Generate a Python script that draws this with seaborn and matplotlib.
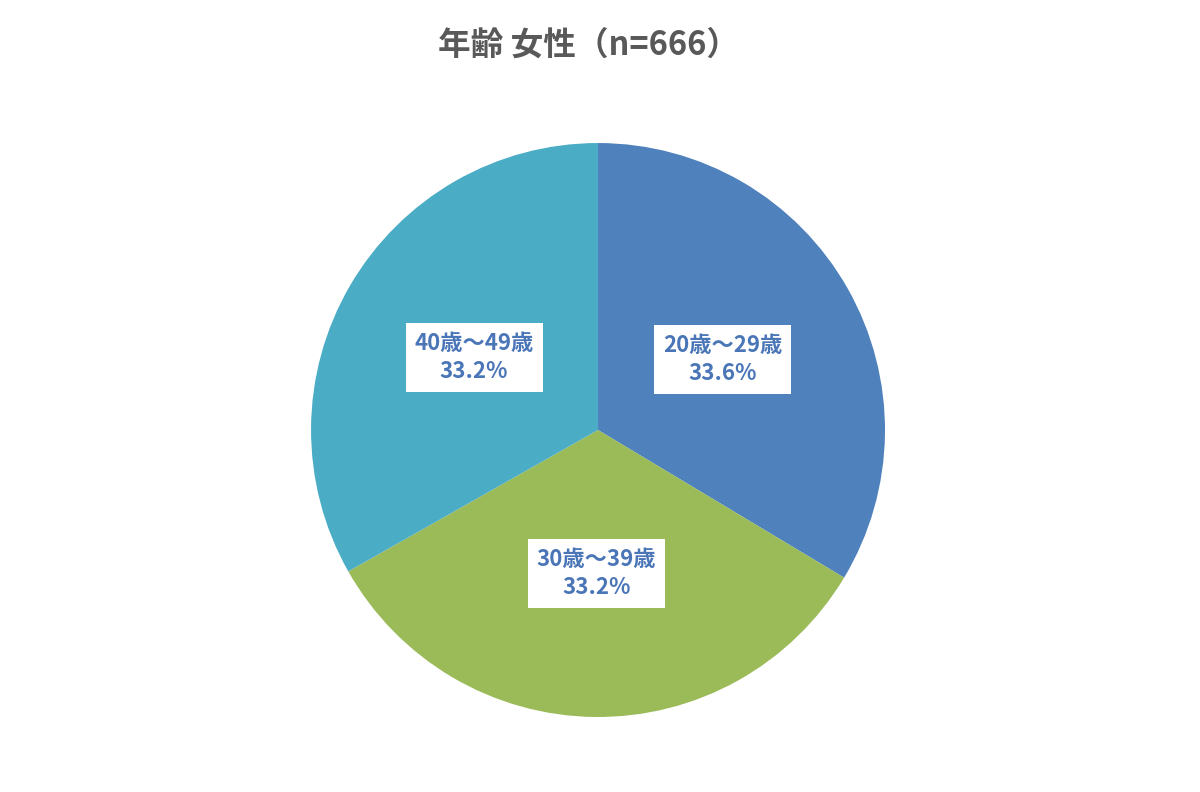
import matplotlib
matplotlib.use('Agg')
import matplotlib.pyplot as plt
import seaborn as sns

sns.set_theme(style='white')
plt.rcParams['font.family'] = ['Noto Sans CJK JP', 'DejaVu Sans']

# データ
labels = ['20歳～29歳', '30歳～39歳', '40歳～49歳']
shares = [33.6, 33.2, 33.2]
colors = ['#4F81BD', '#9BBB59', '#4BACC6']
title = '年齢 女性（n=666）'

fig = plt.figure(figsize=(12, 7.92), dpi=100)
ax = fig.add_axes([0.2592, 0.0947, 0.4783, 0.7247])

texts = [f'{l}\n{s:.1f}%' for l, s in zip(labels, shares)]
wedges, txts = ax.pie(shares, labels=texts, colors=colors, startangle=90,
                      counterclock=False, labeldistance=0.5,
                      wedgeprops=dict(linewidth=0),
                      textprops=dict(color='#4A76B8', fontsize=16,
                                     fontweight='bold', ha='center', va='center',
                                     linespacing=1.3))
for t in txts:
    t.set_bbox(dict(facecolor='white', edgecolor='none', boxstyle='square,pad=0.4'))

ax.set_xlim(-1, 1)
ax.set_ylim(-1, 1)
ax.set_aspect('equal')
ax.axis('off')

fig.text(0.49, 0.943, title, ha='center', va='center', fontsize=23.5,
         fontweight='bold', color='#595959')

fig.savefig('out.png', dpi=100, facecolor='white')
